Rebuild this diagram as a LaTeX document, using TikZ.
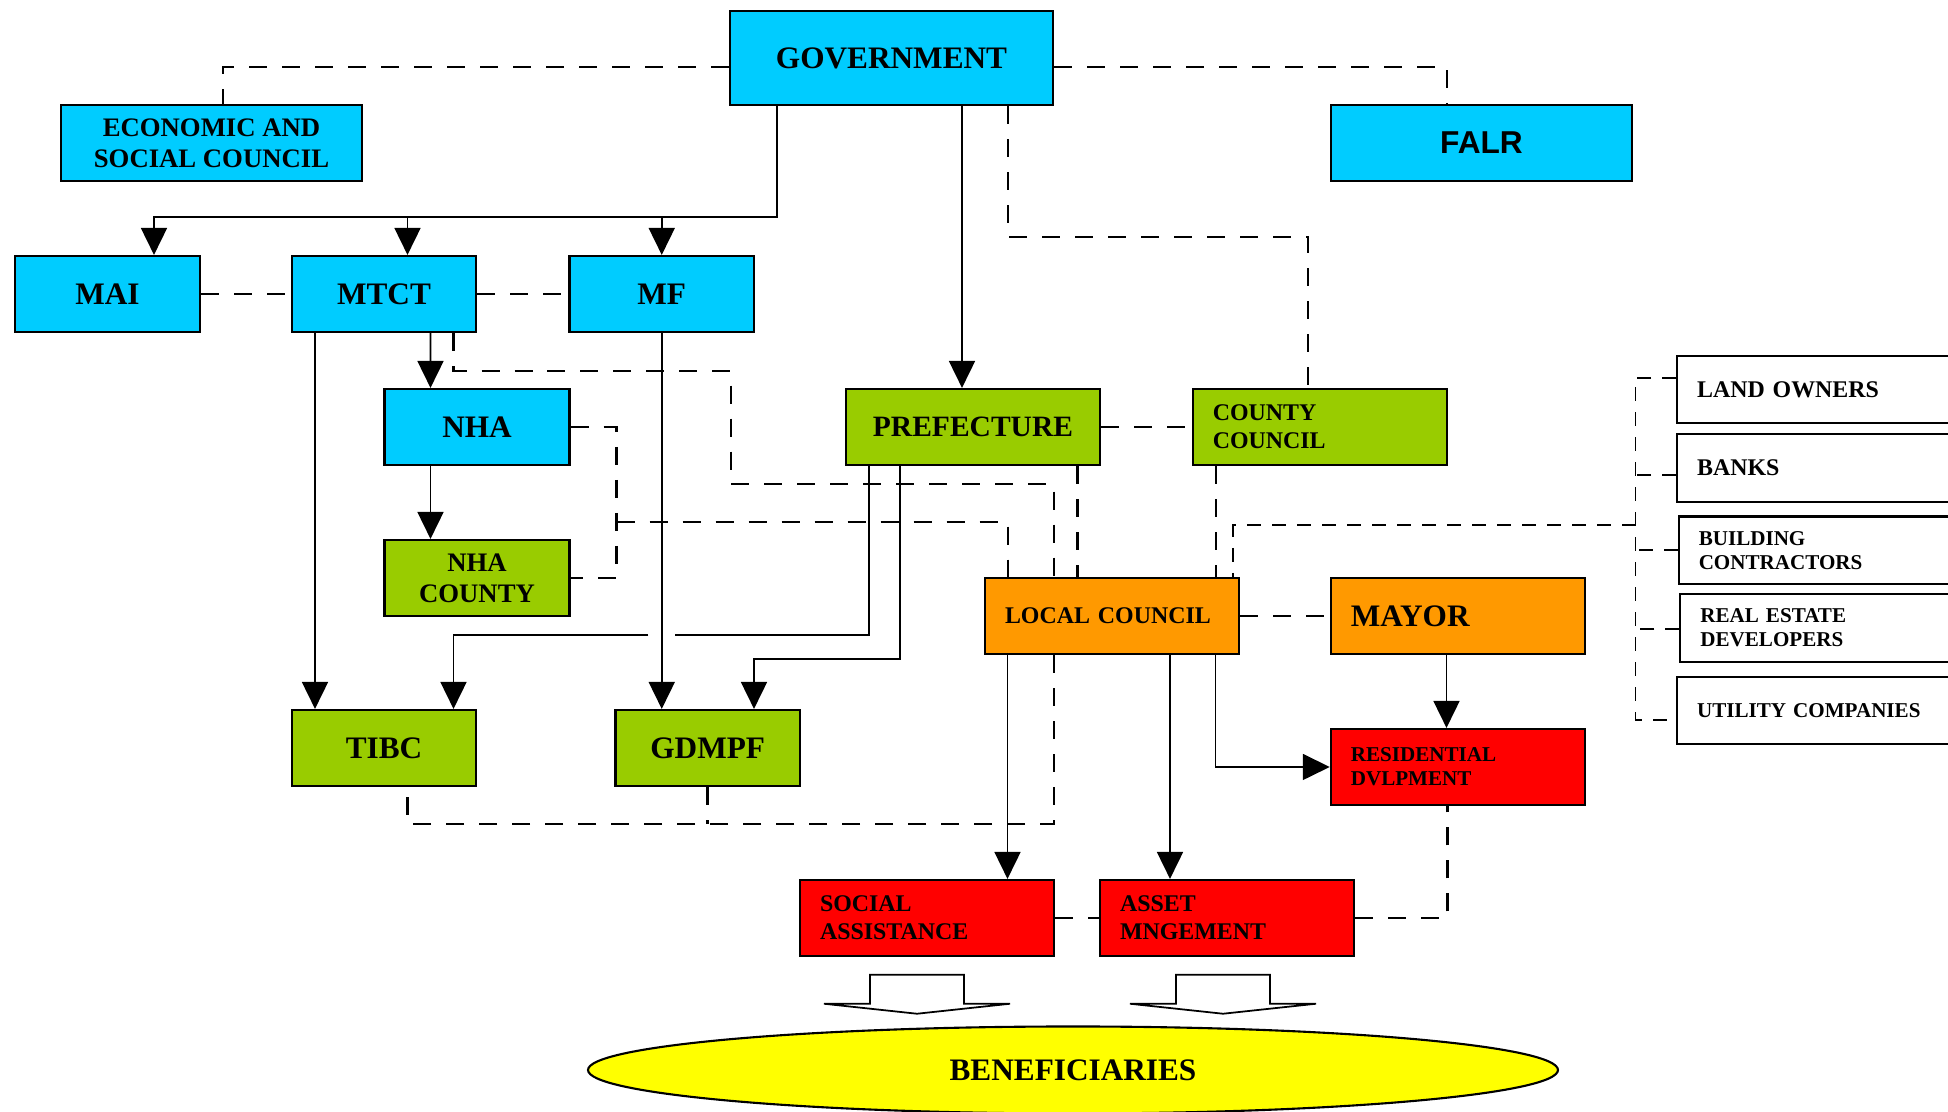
\documentclass[tikz,border=0pt]{standalone}
\usepackage{fontspec}
\setmainfont{Liberation Serif}
\newfontfamily\falrfont{Liberation Sans}
\usetikzlibrary{arrows.meta,calc,shapes.geometric}
\definecolor{govcyan}{HTML}{00CCFF}
\definecolor{deptgreen}{HTML}{99CC00}
\definecolor{localorange}{HTML}{FF9900}
\definecolor{actionred}{HTML}{FF0000}
\definecolor{benefyellow}{HTML}{FFFF00}

\begin{document}
\begin{tikzpicture}[
  box/.style={draw, line width=0.6pt, inner sep=0pt, minimum height=0.76cm, align=center},
  leftbox/.style={box, inner xsep=0.2cm, text width=2.14cm, align=left},
  sidebox/.style={box, anchor=west, fill=white, inner xsep=0.2cm, text width=2.44cm, align=left, minimum height=0.675cm},
  bigtext/.style={font=\bfseries\fontsize{8.9}{10.5}\selectfont},
  midtext/.style={font=\bfseries\fontsize{7.6}{8.8}\selectfont},
  smalltext/.style={font=\bfseries\fontsize{6.8}{7.9}\selectfont},
  tinytext/.style={font=\bfseries\fontsize{6}{6.8}\selectfont},
  flow/.style={line width=0.5pt, -{Triangle[length=0.27cm,width=0.26cm]}},
  wire/.style={line width=0.5pt},
  link/.style={line width=0.7pt, dash pattern=on 0.18cm off 0.15cm},
  thinlink/.style={line width=0.45pt, dash pattern=on 0.14cm off 0.11cm},
  blockarrow/.style={draw, fill=white, line width=0.5pt}]
  \useasboundingbox (0,0) rectangle (19.48,11.12);
  \clip (0,0) rectangle (19.48,11.12);

  % central government level
  \node[box, fill=govcyan, bigtext, minimum width=3.23cm, minimum height=0.94cm] (gov) at (8.915,10.54) {GOVERNMENT};
  \node[box, fill=govcyan, midtext, minimum width=3.01cm] (esc) at (2.115,9.69) {ECONOMIC AND\\SOCIAL COUNCIL};
  \node[box, fill=govcyan, font=\falrfont\bfseries\fontsize{9}{11}\selectfont, minimum width=3.01cm] (falr) at (14.815,9.69) {FALR};

  % ministries
  \node[box, fill=govcyan, bigtext, minimum width=1.85cm] (mai) at (1.075,8.18) {MAI};
  \node[box, fill=govcyan, bigtext, minimum width=1.84cm] (mtct) at (3.84,8.18) {MTCT};
  \node[box, fill=govcyan, bigtext, minimum width=1.845cm] (mf) at (6.6175,8.18) {MF};

  % agencies and county level
  \node[box, fill=govcyan, bigtext, minimum width=1.85cm] (nha) at (4.77,6.85) {NHA};
  \node[box, fill=deptgreen, midtext, minimum width=1.85cm] (nhacounty) at (4.77,5.34) {NHA\\COUNTY};
  \node[box, fill=deptgreen, bigtext, minimum width=1.84cm] (tibc) at (3.84,3.64) {TIBC};
  \node[box, fill=deptgreen, bigtext, minimum width=1.845cm] (gdmpf) at (7.077,3.64) {GDMPF};
  \node[box, fill=deptgreen, font=\bfseries\fontsize{8.4}{10}\selectfont, minimum width=2.54cm] (pref) at (9.73,6.85) {PREFECTURE};
  \node[leftbox, fill=deptgreen, smalltext] (county) at (13.1975,6.85) {COUNTY\\COUNCIL};

  % local level
  \node[leftbox, fill=localorange, smalltext] (lc) at (11.12,4.96) {LOCAL COUNCIL};
  \node[leftbox, fill=localorange, bigtext] (mayor) at (14.578,4.96) {MAYOR};
  \node[leftbox, fill=actionred, tinytext] (res) at (14.578,3.45) {RESIDENTIAL\\DVLPMENT};
  \node[leftbox, fill=actionred, font=\bfseries\fontsize{6.8}{8}\selectfont] (social) at (9.27,1.94) {SOCIAL\\ASSISTANCE};
  \node[leftbox, fill=actionred, font=\bfseries\fontsize{6.8}{8}\selectfont] (asset) at (12.27,1.94) {ASSET\\MNGEMENT};

  % private partners
  \node[sidebox, smalltext] (land) at (16.76,7.225) {LAND OWNERS};
  \node[sidebox, smalltext] (banks) at (16.76,6.44) {BANKS};
  \node[sidebox, tinytext] (build) at (16.777,5.617) {BUILDING\\CONTRACTORS};
  \node[sidebox, tinytext] (real) at (16.793,4.84) {REAL ESTATE\\DEVELOPERS};
  \node[sidebox, tinytext] (util) at (16.76,4.015) {UTILITY COMPANIES};

  % beneficiaries
  \node[ellipse, draw, line width=0.6pt, fill=benefyellow, inner sep=0pt, minimum width=9.7cm, minimum height=0.87cm, bigtext] (benef) at (10.73,0.42) {BENEFICIARIES};

  % government links
  \draw[link] ([yshift=-0.09cm]gov.west) -| ([xshift=0.115cm]esc.north);
  \draw[link] ([yshift=-0.09cm]gov.east) -| ([xshift=-0.345cm]falr.north);
  \draw[flow] ([xshift=-1.145cm]gov.south) |- ([xshift=0.465cm,yshift=0.38cm]mai.north) -- ([xshift=0.465cm]mai.north);
  \draw[flow] ([xshift=0.235cm,yshift=0.38cm]mtct.north) -- ([xshift=0.235cm]mtct.north);
  \draw[flow] ([yshift=0.38cm]mf.north) -- (mf.north);
  \draw[flow] ([xshift=0.705cm]gov.south) -- ([xshift=0.705cm]gov.south |- pref.north);
  \draw[link] ([xshift=1.165cm]gov.south) |- ([xshift=-0.1175cm,yshift=1.51cm]county.north) -- ([xshift=-0.1175cm]county.north);
  \draw[link] (mai.east) -- (mtct.west);
  \draw[link] (mtct.east) -- (mf.west);

  % ministries down to agencies
  \draw[flow] ([xshift=0.465cm]mtct.south) -- ([xshift=-0.465cm]nha.north);
  \draw[flow] ([xshift=-0.465cm]nha.south) -- ([xshift=-0.465cm]nhacounty.north);
  \draw[flow] ([xshift=-0.69cm]mtct.south) -- ([xshift=-0.69cm]tibc.north);
  \draw[flow] (mf.south) -- (mf.south |- gdmpf.north);
  \draw[link] ([xshift=0.695cm]mtct.south) -- ++(0,-0.38) -| ++(2.775,-1.13) -| ([xshift=-0.58cm]lc.north);
  \draw[link] (nha.east) -- ++(0.46,0) |- (nhacounty.east);
  \coordinate (nhajoin) at ($(nha.east)+(0.46,-0.95)$);
  \draw[link] (nhajoin) -| ([xshift=-1.04cm]lc.north);

  % prefecture links
  \coordinate (hopL) at ($(mf.south)+(-0.135,-3.023)$);
  \coordinate (hopR) at ($(mf.south)+(0.135,-3.023)$);
  \draw[wire] ([xshift=-1.037cm]pref.south) |- (hopR);
  \draw[flow] (hopL) -| ([xshift=0.695cm]tibc.north);
  \draw[flow] ([xshift=-0.73cm]pref.south) |- ([xshift=0.463cm,yshift=0.5cm]gdmpf.north) -- ([xshift=0.463cm]gdmpf.north);
  \draw[link] (pref.east) -- (county.west);
  \draw[link] ([xshift=1.043cm]pref.south) -- ([xshift=1.043cm]pref.south |- lc.north);
  \draw[link] ([xshift=-1.04cm]county.south) -- ([xshift=-1.04cm]county.south |- lc.north);

  % local council links
  \draw[link] (lc.east) -- (mayor.west);
  \draw[flow] ([xshift=-0.113cm]mayor.south) -- ([xshift=-0.113cm]res.north);
  \draw[flow] ([xshift=1.035cm]lc.south) |- (res.west);
  \draw[flow] ([xshift=-1.045cm]lc.south) -- ([xshift=-1.045cm]lc.south |- social.north);
  \draw[flow] ([xshift=0.58cm]lc.south) -- ([xshift=0.58cm]lc.south |- asset.north);
  \draw[link] ([xshift=-0.58cm]lc.south) |- ([xshift=0.235cm,yshift=-0.37cm]tibc.south) -- ([xshift=0.235cm]tibc.south);
  \draw[link] (gdmpf.south) -- ++(0,-0.37);
  \draw[link] (social.east) -- (asset.west);
  \draw[link] (asset.east) -| ([xshift=-0.103cm]res.south);

  % partner links
  \draw[thinlink] ([yshift=0.115cm]land.west) -- ++(-0.405,0) |- ([yshift=-0.095cm]util.west);
  \draw[thinlink] ([yshift=-0.07cm]banks.west) -- ++(-0.405,0);
  \draw[thinlink] (build.west) -- ++(-0.422,0);
  \draw[thinlink] ([yshift=-0.01cm]real.west) -- ++(-0.438,0);
  \draw[thinlink] ([xshift=-0.422cm,yshift=0.25cm]build.west) -| ([xshift=1.21cm]lc.north);

  % block arrows to beneficiaries
  \foreach \src/\dx in {social/-0.10, asset/-0.04}
    \draw[blockarrow] ($(\src.south)+(\dx,-0.177)$) ++(-0.47,0) -- ++(0.94,0) -- ++(0,-0.29) -- ++(0.46,0)
      -- ++(-0.93,-0.10) -- ++(-0.93,0.10) -- ++(0.46,0) -- cycle;
\end{tikzpicture}
\end{document}
